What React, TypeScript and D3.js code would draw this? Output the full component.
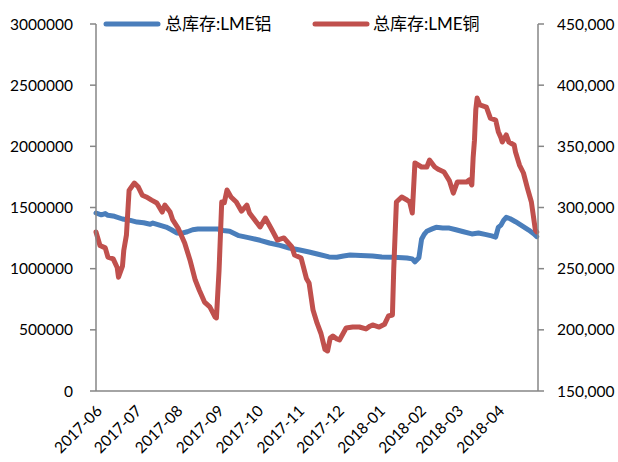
import React from 'react';
import * as d3 from 'd3';

// LME total stocks: aluminium (left axis, tonnes) and copper (right axis, tonnes)
const aluminumDates = [
  '2017-06-01', '2017-06-05', '2017-06-08', '2017-06-10', '2017-06-15', '2017-06-21', '2017-06-27',
  '2017-07-02', '2017-07-07', '2017-07-12', '2017-07-14', '2017-07-19', '2017-07-24', '2017-07-28',
  '2017-08-01', '2017-08-05', '2017-08-09', '2017-08-13', '2017-08-17', '2017-08-24', '2017-09-01',
  '2017-09-05', '2017-09-10', '2017-09-17', '2017-09-25', '2017-10-03', '2017-10-10', '2017-10-18',
  '2017-10-25', '2017-11-02', '2017-11-09', '2017-11-16', '2017-11-24', '2017-11-30', '2017-12-05',
  '2017-12-10', '2017-12-18', '2017-12-27', '2018-01-03', '2018-01-12', '2018-01-22', '2018-01-26',
  '2018-01-28', '2018-01-31', '2018-02-02', '2018-02-04', '2018-02-06', '2018-02-10', '2018-02-13',
  '2018-02-18', '2018-02-23', '2018-02-28', '2018-03-05', '2018-03-12', '2018-03-17', '2018-03-22',
  '2018-03-27', '2018-03-30', '2018-04-01', '2018-04-03', '2018-04-05', '2018-04-07', '2018-04-10',
  '2018-04-14', '2018-04-19', '2018-04-24', '2018-04-28', '2018-04-30',
];
const aluminumValues = [
  1455000, 1440000, 1450000, 1436000, 1428000, 1406000, 1395000,
  1381000, 1375000, 1363000, 1373000, 1356000, 1340000, 1318000,
  1292000, 1290000, 1302000, 1318000, 1324000, 1325000, 1324000,
  1312000, 1306000, 1270000, 1252000, 1232000, 1210000, 1190000,
  1169000, 1152000, 1136000, 1118000, 1096000, 1094000, 1104000,
  1111000, 1108000, 1104000, 1096000, 1094000, 1087000, 1080000,
  1056000, 1090000, 1240000, 1280000, 1306000, 1325000, 1338000,
  1332000, 1332000, 1318000, 1304000, 1284000, 1291000, 1280000,
  1268000, 1258000, 1338000, 1356000, 1395000, 1420000, 1408000,
  1384000, 1350000, 1316000, 1284000, 1262000,
];

const copperDates = [
  '2017-06-01', '2017-06-04', '2017-06-08', '2017-06-10', '2017-06-14', '2017-06-17', '2017-06-18',
  '2017-06-21', '2017-06-22', '2017-06-24', '2017-06-26', '2017-06-27', '2017-06-30', '2017-07-03',
  '2017-07-06', '2017-07-09', '2017-07-13', '2017-07-17', '2017-07-21', '2017-07-23', '2017-07-27',
  '2017-07-29', '2017-08-02', '2017-08-07', '2017-08-11', '2017-08-15', '2017-08-18', '2017-08-22',
  '2017-08-26', '2017-08-30', '2017-08-31', '2017-09-02', '2017-09-04', '2017-09-06', '2017-09-08',
  '2017-09-11', '2017-09-15', '2017-09-19', '2017-09-23', '2017-09-25', '2017-10-03', '2017-10-07',
  '2017-10-12', '2017-10-16', '2017-10-21', '2017-10-27', '2017-10-29', '2017-11-03', '2017-11-07',
  '2017-11-09', '2017-11-12', '2017-11-15', '2017-11-18', '2017-11-21', '2017-11-23', '2017-11-25',
  '2017-11-27', '2017-11-30', '2017-12-02', '2017-12-07', '2017-12-12', '2017-12-17', '2017-12-22',
  '2017-12-25', '2017-12-27', '2018-01-01', '2018-01-05', '2018-01-08', '2018-01-11', '2018-01-12',
  '2018-01-14', '2018-01-18', '2018-01-22', '2018-01-24', '2018-01-26', '2018-01-28', '2018-02-02',
  '2018-02-06', '2018-02-08', '2018-02-12', '2018-02-15', '2018-02-19', '2018-02-23', '2018-02-26',
  '2018-03-01', '2018-03-08', '2018-03-10', '2018-03-12', '2018-03-13', '2018-03-14', '2018-03-15',
  '2018-03-16', '2018-03-18', '2018-03-23', '2018-03-26', '2018-03-30', '2018-04-01', '2018-04-03',
  '2018-04-04', '2018-04-07', '2018-04-09', '2018-04-13', '2018-04-14', '2018-04-17', '2018-04-20',
  '2018-04-23', '2018-04-26', '2018-04-29', '2018-04-30',
];
const copperValues = [
  280000, 269000, 267000, 259500, 258000, 251000, 243000,
  252000, 265000, 277500, 314000, 315500, 320000, 316700,
  310000, 308600, 306000, 303700, 296300, 302000, 296300,
  289800, 283200, 271000, 257100, 240700, 232600, 222700,
  218700, 210500, 209700, 248900, 304500, 304000, 314300,
  308600, 304500, 297000, 302000, 295500, 284100, 291400,
  281600, 273400, 275100, 267700, 261200, 258700, 242000,
  238300, 216200, 205600, 197000, 184000, 182700, 193300,
  195000, 192500, 191700, 201500, 202300, 202300, 200700,
  203000, 204000, 202300, 204500, 211300, 212100, 250000,
  304500, 308600, 306100, 304500, 295500, 336400, 333100,
  333100, 338800, 333100, 331000, 329000, 322000, 311800,
  320800, 320800, 322500, 318400, 341000, 355000, 380000,
  389500, 383800, 382100, 373100, 371500, 362000, 357000,
  353500, 359300, 353500, 351100, 345400, 334700, 328200,
  315900, 304500, 281600, 280000,
];

const leftTicks = [0, 500000, 1000000, 1500000, 2000000, 2500000, 3000000];
const rightTicks = [150000, 200000, 250000, 300000, 350000, 400000, 450000];
const monthTicks = [
  '2017-06', '2017-07', '2017-08', '2017-09', '2017-10', '2017-11',
  '2017-12', '2018-01', '2018-02', '2018-03', '2018-04',
];
const seriesNames = ['总库存:LME铝', '总库存:LME铜'];

const W = 618;
const H = 462;
const plot = { left: 96, right: 538, top: 24, bottom: 391 };
const BLUE = '#4A7EBB';
const RED = '#C0504D';
const AXIS = '#868686';
const FONT = 'Lato, "Noto Sans CJK SC", sans-serif';

const parse = d3.timeParse('%Y-%m-%d');
const parseMonth = d3.timeParse('%Y-%m');

export default function App() {
  const x = d3
    .scaleTime()
    .domain([parse('2017-06-01') as Date, parse('2018-05-01') as Date])
    .range([plot.left, plot.right]);
  const yLeft = d3.scaleLinear().domain([0, 3000000]).range([plot.bottom, plot.top]);
  const yRight = d3.scaleLinear().domain([150000, 450000]).range([plot.bottom, plot.top]);

  const alu = aluminumDates.map((d, i) => ({ date: parse(d) as Date, v: aluminumValues[i] }));
  const cu = copperDates.map((d, i) => ({ date: parse(d) as Date, v: copperValues[i] }));

  const aluLine = d3
    .line<{ date: Date; v: number }>()
    .x((d) => x(d.date))
    .y((d) => yLeft(d.v));
  const cuLine = d3
    .line<{ date: Date; v: number }>()
    .x((d) => x(d.date))
    .y((d) => yRight(d.v));

  const fmtComma = d3.format(',');

  return (
    <svg
      width={W}
      height={H}
      style={{ position: 'absolute', left: 0, top: 0, background: '#fff' }}
      fontFamily={FONT}
    >
      {/* series */}
      <path d={aluLine(alu) || ''} fill="none" stroke={BLUE} strokeWidth={5} strokeLinejoin="round" strokeLinecap="round" />
      <path d={cuLine(cu) || ''} fill="none" stroke={RED} strokeWidth={5} strokeLinejoin="round" strokeLinecap="round" />

      {/* axes */}
      <line x1={plot.left} x2={plot.left} y1={plot.top} y2={plot.bottom} stroke={AXIS} strokeWidth={1.5} />
      <line x1={plot.right} x2={plot.right} y1={plot.top} y2={plot.bottom} stroke={AXIS} strokeWidth={1.5} />
      <line x1={plot.left} x2={plot.right} y1={plot.bottom} y2={plot.bottom} stroke={AXIS} strokeWidth={1.5} />

      {leftTicks.map((t) => (
        <g key={'l' + t}>
          <line x1={plot.left - 6} x2={plot.left} y1={yLeft(t)} y2={yLeft(t)} stroke={AXIS} strokeWidth={1.5} />
          <text x={73} y={yLeft(t)} dy="0.36em" textAnchor="end" fontSize={15.5} fill="#000">
            {String(t)}
          </text>
        </g>
      ))}
      {rightTicks.map((t) => (
        <g key={'r' + t}>
          <line x1={plot.right} x2={plot.right + 6} y1={yRight(t)} y2={yRight(t)} stroke={AXIS} strokeWidth={1.5} />
          <text x={557} y={yRight(t)} dy="0.36em" textAnchor="start" fontSize={15.5} fill="#000">
            {fmtComma(t)}
          </text>
        </g>
      ))}
      {monthTicks.map((m) => {
        const px = x(parseMonth(m) as Date);
        return (
          <text
            key={m}
            transform={`translate(${px + 7},${plot.bottom + 21}) rotate(-45)`}
            textAnchor="end"
            fontSize={15.5}
            fill="#000"
          >
            {m}
          </text>
        );
      })}

      {/* legend */}
      <line x1={106} x2={158} y1={24} y2={24} stroke={BLUE} strokeWidth={5} strokeLinecap="round" />
      <text x={165} y={24} dy="0.36em" fontSize={17} fill="#000">
        {seriesNames[0]}
      </text>
      <line x1={315} x2={367} y1={24} y2={24} stroke={RED} strokeWidth={5} strokeLinecap="round" />
      <text x={373} y={24} dy="0.36em" fontSize={17} fill="#000">
        {seriesNames[1]}
      </text>
    </svg>
  );
}
